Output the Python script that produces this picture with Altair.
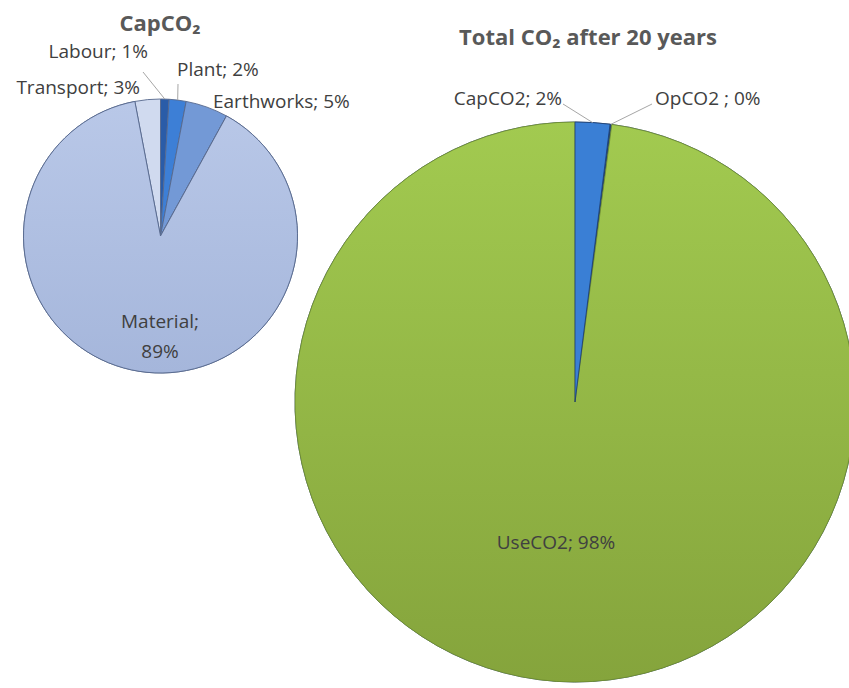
import math
import altair as alt
import pandas as pd

W, H = 849, 688

# ---- data ----
cap_title = "CapCO₂"
cap_names = ["Labour", "Plant", "Earthworks", "Material", "Transport"]
cap_values = [1, 2, 5, 89, 3]
cap_colors = ["#2a5ca8", "#3d7fd6", "#7399d6", "#b3c4e6", "#d0daef"]

tot_title = "Total CO₂ after 20 years"
tot_names = ["CapCO2", "OpCO2 ", "UseCO2"]
tot_values = [2.0, 0.1, 98.0]
tot_colors = ["#3a7fd5", "#24497f", "#9dc44d"]

# ---- layout (pixels) ----
CAP_C, CAP_R = (160.5, 236.0), 137
TOT_C, TOT_R = (575.0, 402.0), 280

FONT = "Open Sans"
TXT = "#404040"
LFS = 19

xs = alt.Scale(domain=[0, W], range=[0, W])
ys = alt.Scale(domain=[0, H], range=[0, H])


def pie_frame(names, values, colors):
    total = float(sum(values))
    cum = 0.0
    rows = []
    for i, (n, v, c) in enumerate(zip(names, values, colors)):
        rows.append(dict(name=n, value=v, color=c, order=i, start=cum, end=cum + v,
                         pct=round(v / total * 100)))
        cum += v
    return pd.DataFrame(rows), total


def edge_point(df, name, center, r, total):
    row = df[df["name"] == name].iloc[0]
    a = (row["start"] + row["end"]) / 2 / total * 2 * math.pi
    return center[0] + r * math.sin(a), center[1] - r * math.cos(a)


cap_df, cap_total = pie_frame(cap_names, cap_values, cap_colors)
tot_df, tot_total = pie_frame(tot_names, tot_values, tot_colors)


def arcs(df, total, center, r, stroke, sw):
    return alt.Chart(df).mark_arc(outerRadius=r, stroke=stroke, strokeWidth=sw).encode(
        theta=alt.Theta("start:Q", scale=alt.Scale(domain=[0, total])),
        theta2="end:Q",
        color=alt.Color("color:N", scale=None),
        x=alt.value(center[0]),
        y=alt.value(center[1]),
    )


def grad_arc(df, total, center, r, name, top, bottom, stroke, sw):
    g = alt.LinearGradient(gradient="linear", x1=0, x2=0, y1=0, y2=1,
                           stops=[alt.GradientStop(color=top, offset=0),
                                  alt.GradientStop(color=bottom, offset=1)])
    return alt.Chart(df).transform_filter(alt.datum.name == name).mark_arc(
        outerRadius=r, fill=g, stroke=stroke, strokeWidth=sw).encode(
        theta=alt.Theta("start:Q", scale=alt.Scale(domain=[0, total])),
        theta2="end:Q",
        x=alt.value(center[0]),
        y=alt.value(center[1]),
    )


cap_arcs = arcs(cap_df, cap_total, CAP_C, CAP_R, "#56688c", 0.9)
cap_mat = grad_arc(cap_df, cap_total, CAP_C, CAP_R, "Material", "#b9c8e8", "#a5b6db", "#56688c", 0.9)
tot_arcs = arcs(tot_df, tot_total, TOT_C, TOT_R, "#1f3f6e", 0.8)
tot_use = grad_arc(tot_df, tot_total, TOT_C, TOT_R, "UseCO2", "#a2ca50", "#85a43c", "#6f8d2e", 0.8)
tot_cap = alt.Chart(tot_df).transform_filter(alt.datum.name == "CapCO2").mark_arc(
    outerRadius=TOT_R, stroke="#1f3f6e", strokeWidth=0.8).encode(
    theta=alt.Theta("start:Q", scale=alt.Scale(domain=[0, tot_total])),
    theta2="end:Q",
    color=alt.Color("color:N", scale=None),
    x=alt.value(TOT_C[0]), y=alt.value(TOT_C[1]),
)

# ---- labels ----
def lab(df, name):
    r = df[df["name"] == name].iloc[0]
    return f"{r['name']}; {r['pct']}%"

label_rows = [
    dict(text=lab(cap_df, "Labour"), lx=148, ly=52, align="right"),
    dict(text=lab(cap_df, "Plant"), lx=177, ly=70, align="left"),
    dict(text=lab(cap_df, "Transport"), lx=140, ly=88, align="right"),
    dict(text=lab(cap_df, "Earthworks"), lx=213, ly=102, align="left"),
    dict(text="Material;\n" + str(cap_df[cap_df["name"] == "Material"].iloc[0]["pct"]) + "%",
         lx=160, ly=322, align="center"),
    dict(text=lab(tot_df, "CapCO2"), lx=562, ly=99, align="right"),
    dict(text=lab(tot_df, "OpCO2 "), lx=655, ly=99, align="left"),
    dict(text=lab(tot_df, "UseCO2"), lx=556, ly=543, align="center"),
]
labels = pd.DataFrame(label_rows)

text_layers = []
for a in ["left", "right", "center"]:
    text_layers.append(
        alt.Chart(labels).transform_filter(alt.datum.align == a).mark_text(
            align=a, baseline="middle", font=FONT, fontSize=LFS, color=TXT,
            lineBreak="\n", lineHeight=30).encode(
            x=alt.X("lx:Q", scale=xs, axis=None),
            y=alt.Y("ly:Q", scale=ys, axis=None),
            text="text:N")
    )

titles = pd.DataFrame([
    dict(text=cap_title, tx=160, ty=24),
    dict(text=tot_title, tx=588, ty=38),
])
title_layer = alt.Chart(titles).mark_text(
    align="center", baseline="middle", font=FONT, fontSize=22, fontWeight="bold",
    color="#595959").encode(
    x=alt.X("tx:Q", scale=xs, axis=None),
    y=alt.Y("ty:Q", scale=ys, axis=None),
    text="text:N")

# ---- leader lines ----
lead_rows = []
for df, name, c, r, tot, (px, py) in [
    (cap_df, "Labour", CAP_C, CAP_R, cap_total, (143, 72)),
    (cap_df, "Plant", CAP_C, CAP_R, cap_total, (178, 84)),
    (tot_df, "CapCO2", TOT_C, TOT_R, tot_total, (563, 104)),
    (tot_df, "OpCO2 ", TOT_C, TOT_R, tot_total, (652, 104)),
]:
    ex, ey = edge_point(df, name, c, r, tot)
    lead_rows.append(dict(x=px, y=py, x2=ex, y2=ey))
leads = pd.DataFrame(lead_rows)
lead_layer = alt.Chart(leads).mark_rule(color="#a6a6a6", strokeWidth=1).encode(
    x=alt.X("x:Q", scale=xs, axis=None), y=alt.Y("y:Q", scale=ys, axis=None),
    x2="x2:Q", y2="y2:Q")

chart = alt.layer(
    cap_arcs, cap_mat, tot_arcs, tot_use, tot_cap, lead_layer, title_layer, *text_layers
).resolve_scale(theta="independent").properties(
    width=W, height=H, autosize=alt.AutoSizeParams(type="none"), padding=0,
    background="white"
).configure_view(stroke=None)

chart.save("out.html", embed_options={"renderer": "svg", "actions": False})
